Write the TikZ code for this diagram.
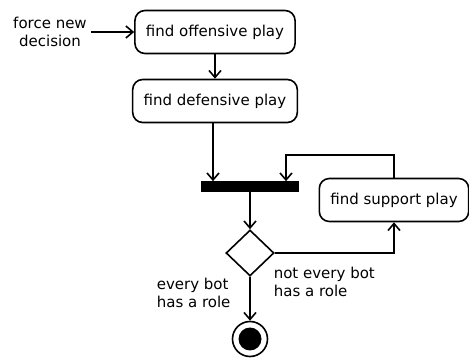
\documentclass[tikz,border=0pt]{standalone}
\usepackage{fontspec}
\setmainfont{DejaVu Sans}
\usetikzlibrary{arrows.meta,shapes.geometric}

\begin{document}
\begin{tikzpicture}[x=1pt, y=-1pt, line width=1.6pt,
    >={Straight Barb[length=7pt,width=12pt]},
    every node/.style={font=\fontsize{15}{18}\selectfont},
    activity/.style={draw, rounded corners=10pt, minimum height=43pt, inner xsep=11pt},
    label text/.style={align=left, anchor=west, inner sep=0pt}]
            \useasboundingbox (0, 0) rectangle (469, 358);

            \node[align=center] (force) at (50, 32) {force new\\decision};
            \node[activity] (offensive) at (215, 32) {find offensive play};
            \node[activity] (defensive) at (215, 101) {find defensive play};
            \node[activity] (support) at (394, 200) {find support play};

            \node[draw, fill, inner sep=0pt, minimum width=96pt, minimum height=9pt] (bar) at (250, 186.5) {};
            \node[draw, diamond, inner sep=0pt, minimum width=48pt, minimum height=46pt] (decision) at (250, 253) {};
            \node[draw, circle, inner sep=0pt, minimum size=35pt] (end) at (250, 339) {};
            \node[fill, circle, inner sep=0pt, minimum size=23pt] (enddot) at (end) {};

            \node[label text] (allroles) at (156, 293) {every bot\\has a role};
            \node[label text] (notall) at (273, 282) {not every bot\\has a role};

            \coordinate (loop) at (286, 155);

            \draw[->] (force) -- (offensive);
            \draw[->] (offensive) -- (defensive);
            \draw[->] ([xshift=-2pt]defensive.south) -- ([xshift=-2pt]defensive.south |- bar.north);
            \draw[->] (support.north) |- (loop) -- (loop |- bar.north);
            \draw[->] (bar.south) -- (decision.north);
            \draw[->] (decision.east) -| (support.south);
            \draw[->] (decision.south) -- (end.north);
        \end{tikzpicture}
\end{document}
